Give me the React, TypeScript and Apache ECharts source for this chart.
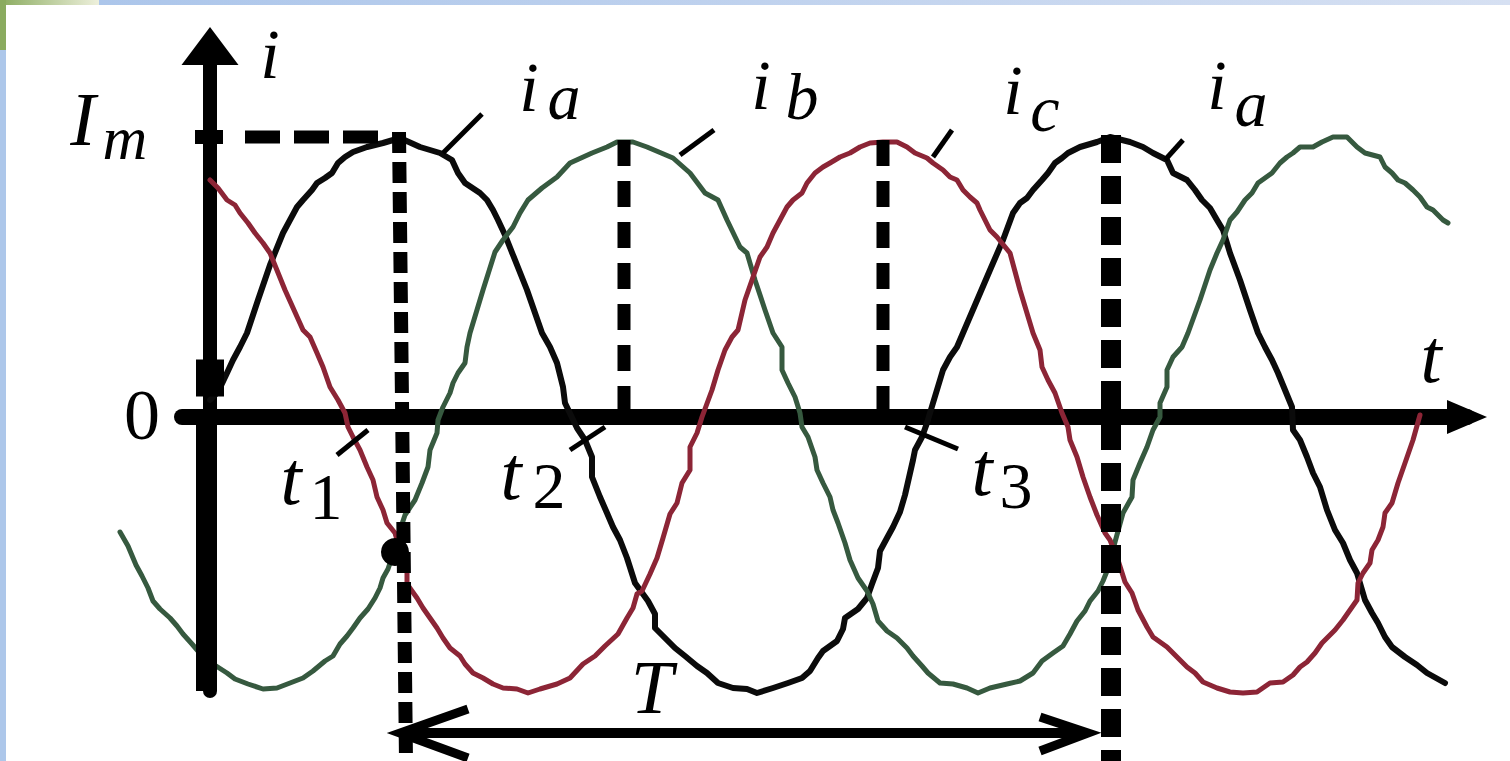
import React, { useEffect, useRef } from 'react';
import * as echarts from 'echarts';

// Three-phase currents, time in arbitrary units (origin on the i axis), current in units where Im = 280
const iaPoints: [number, number][] = [
  [0, 17], [8, 25], [17, 44], [23, 57], [30, 70], [37, 84], [48, 117], [60, 152], [73, 184], [80, 197],
  [87, 210], [93, 217], [102, 227], [107, 234], [115, 239], [122, 244], [128, 254], [135, 260], [143, 265],
  [157, 270], [173, 274], [190, 279], [210, 270], [230, 264], [242, 257], [248, 244], [255, 234], [270, 224],
  [277, 217], [283, 207], [288, 197], [295, 182], [303, 162], [317, 127], [332, 84], [340, 70], [347, 54],
  [353, 30], [355, 14], [367, -11], [375, -23], [382, -40], [382, -60], [390, -80], [397, -96], [403, -110],
  [410, -123], [417, -141], [425, -166], [438, -184], [445, -197], [445, -211], [453, -219], [465, -231],
  [475, -239], [487, -249], [497, -256], [508, -266], [523, -271], [537, -272], [547, -276], [563, -271],
  [578, -266], [592, -261], [600, -254], [608, -241], [613, -234], [627, -224], [633, -212], [635, -201],
  [648, -192], [657, -181], [662, -167], [668, -151], [670, -134], [677, -121], [683, -110], [690, -95],
  [695, -78], [703, -43], [705, -33], [712, -20], [717, -6], [723, 14], [733, 47], [740, 60], [747, 70],
  [753, 84], [765, 112], [780, 147], [793, 177], [803, 204], [810, 214], [817, 219], [823, 227], [832, 237],
  [838, 244], [845, 254], [852, 259], [858, 264], [870, 270], [887, 275], [900, 280], [920, 275], [933, 270],
  [943, 264], [957, 257], [963, 244], [977, 237], [985, 227], [992, 217], [1000, 209], [1007, 197],
  [1013, 187], [1020, 164], [1030, 137], [1040, 107], [1048, 84], [1055, 70], [1062, 57], [1068, 44],
  [1075, 27], [1082, 10], [1083, -13], [1090, -23], [1097, -40], [1103, -56], [1110, -70], [1117, -93],
  [1125, -113], [1133, -126], [1140, -143], [1147, -156], [1155, -183], [1162, -196], [1168, -206],
  [1175, -220], [1182, -230], [1195, -240], [1207, -248], [1217, -256], [1235, -266],
];

const ibPoints: [number, number][] = [
  [-90, -115], [-82, -129], [-74, -148], [-68, -159], [-62, -171], [-57, -184], [-50, -192], [-40, -201],
  [-33, -209], [-27, -217], [-18, -227], [-12, -234], [-3, -241], [3, -247], [17, -256], [25, -262],
  [38, -267], [53, -272], [67, -271], [80, -266], [93, -261], [103, -254], [115, -244], [123, -239],
  [130, -227], [137, -219], [143, -211], [150, -201], [158, -192], [165, -181], [170, -171], [173, -161],
  [178, -152], [185, -131], [190, -113], [195, -98], [205, -83], [212, -66], [218, -50], [220, -33],
  [227, -16], [228, -3], [233, 10], [240, 24], [243, 34], [248, 44], [255, 54], [257, 70], [260, 84],
  [273, 127], [285, 165], [293, 177], [303, 190], [310, 204], [318, 217], [332, 229], [347, 240], [360, 254],
  [382, 264], [397, 270], [407, 275], [423, 275], [437, 270], [463, 259], [480, 244], [495, 224], [508, 217],
  [517, 197], [530, 170], [537, 164], [545, 137], [555, 107], [563, 84], [572, 70], [572, 47], [578, 34],
  [585, 20], [590, 4], [592, -10], [598, -20], [605, -40], [607, -53], [613, -66], [620, -80], [623, -93],
  [628, -106], [635, -126], [640, -143], [648, -161], [657, -174], [663, -187], [668, -204], [677, -214],
  [687, -221], [697, -231], [703, -239], [712, -249], [718, -256], [730, -266], [743, -267], [757, -271],
  [768, -276], [780, -271], [797, -267], [810, -264], [823, -256], [832, -244], [843, -236], [853, -229],
  [860, -217], [867, -204], [875, -194], [880, -184], [888, -174], [893, -164], [897, -154], [905, -125],
  [913, -96], [922, -80], [923, -63], [930, -46], [937, -30], [943, -13], [950, 0], [950, 14], [957, 30],
  [957, 47], [963, 60], [972, 70], [978, 84], [990, 117], [1000, 147], [1007, 164], [1013, 177], [1020, 197],
  [1027, 205], [1035, 217], [1042, 224], [1048, 234], [1055, 239], [1062, 244], [1070, 254], [1077, 260],
  [1083, 264], [1090, 270], [1103, 270], [1112, 275], [1123, 280], [1137, 280], [1147, 270], [1155, 264],
  [1170, 260], [1175, 250], [1182, 244], [1188, 237], [1195, 234], [1203, 227], [1210, 220], [1217, 210],
  [1223, 207], [1233, 197], [1238, 194],
];

const icPoints: [number, number][] = [
  [0, 237], [8, 229], [17, 217], [25, 212], [30, 204], [38, 194], [45, 184], [53, 174], [60, 164], [75, 127],
  [93, 87], [100, 80], [107, 64], [113, 50], [120, 30], [128, 17], [135, 4], [138, -10], [143, -20],
  [150, -33], [157, -50], [163, -63], [167, -80], [173, -93], [177, -106], [185, -116], [190, -133],
  [197, -154], [197, -167], [207, -181], [213, -191], [220, -201], [227, -211], [233, -221], [240, -231],
  [250, -239], [255, -247], [263, -256], [273, -261], [283, -267], [293, -271], [307, -272], [318, -276],
  [330, -272], [347, -267], [360, -261], [373, -247], [385, -239], [395, -229], [408, -217], [417, -201],
  [423, -191], [427, -177], [432, -174], [440, -157], [447, -141], [453, -121], [460, -97], [467, -86],
  [472, -66], [480, -53], [480, -30], [487, -16], [492, 0], [502, 27], [508, 47], [515, 67], [522, 80],
  [528, 87], [535, 117], [542, 137], [550, 160], [557, 170], [563, 184], [570, 197], [577, 210], [583, 217],
  [592, 224], [597, 234], [605, 244], [613, 250], [620, 254], [630, 260], [640, 264], [650, 270], [660, 274],
  [673, 275], [687, 275], [697, 270], [705, 264], [717, 259], [723, 254], [733, 247], [740, 240], [747, 237],
  [753, 227], [760, 220], [767, 214], [770, 207], [775, 197], [780, 187], [787, 180], [800, 164], [810, 127],
  [823, 84], [830, 67], [832, 50], [838, 37], [845, 24], [852, 4], [858, -10], [860, -23], [867, -40],
  [873, -60], [880, -80], [887, -98], [895, -116], [900, -123], [908, -143], [915, -165], [922, -176],
  [928, -193], [937, -210], [943, -220], [957, -230], [967, -240], [977, -250], [985, -256], [993, -265],
  [1007, -271], [1020, -275], [1033, -276], [1047, -275], [1060, -266], [1073, -265], [1083, -258],
  [1090, -250], [1097, -245], [1105, -236], [1112, -226], [1118, -220], [1125, -213], [1133, -203],
  [1140, -193], [1147, -183], [1148, -166], [1153, -156], [1160, -146], [1162, -133], [1168, -123],
  [1173, -110], [1175, -96], [1182, -86], [1188, -66], [1195, -46], [1203, -23], [1210, 2],
];

// Guides (same units)
const imGuide: [number, number][] = [[35, 280], [182, 280]];
const t1Guide: [number, number][] = [[189, 285], [196, -344]];
const peakBGuide: [number, number][] = [[414, 277], [414, 0]];
const peakCGuide: [number, number][] = [[673, 277], [673, 0]];
const periodEndGuide: [number, number][] = [[901, 282], [901, -344]];
const lowerAxisPart: [number, number][] = [[-3.5, 0], [-3.5, -274]];
const periodShaft: [number, number][] = [[192, -316], [876, -316]];
const periodHeads: [number, number][][] = [
  [[258, -292], [190, -316], [258, -341]],
  [[830, -300], [878, -316], [830, -334]],
];
const leaderLines: [number, number][][] = [
  [[233, 264], [272, 303]],
  [[470, 262], [504, 287]],
  [[723, 260], [742, 287]],
  [[955, 257], [973, 277]],
  [[127, -38], [158, -13]],
  [[360, -33], [395, -10]],
  [[695, -10], [748, -32]],
];
const crossDots: [number, number][] = [[185, -135]];
const axisMarks: [number, number][] = [[0, 39]];
const imMark: [number, number][] = [[-1, 280]];

const axisNameY = 'i';
const axisNameX = 't';
const zeroLabel = '0';
const imLabel = ['I', 'm'];
const timeLabels = [['t', '1'], ['t', '2'], ['t', '3']];
const phaseLabels = [['i', 'a'], ['i', 'b'], ['i', 'c'], ['i', 'a']];
const periodLabel = 'T';

const FONT = '"Liberation Serif", "Times New Roman", serif';

function txt(text: string, cx: number, base: number, size: number, italic = true) {
  return {
    type: 'text',
    z: 100,
    silent: true,
    style: {
      text,
      x: cx,
      y: base - 0.32 * size,
      font: `${italic ? 'italic ' : ''}${size}px ${FONT}`,
      fill: '#000',
      align: 'center',
      textAlign: 'center',
      verticalAlign: 'middle',
      textVerticalAlign: 'middle',
    },
  };
}

const onData = { xAxisIndex: 1, yAxisIndex: 1 };

function seg(data: [number, number][], width: number, dash?: number[], color = '#000', z = 5) {
  return {
    type: 'line',
    ...onData,
    data,
    symbol: 'none',
    showSymbol: false,
    clip: false,
    silent: true,
    z,
    emphasis: { disabled: true },
    lineStyle: { color, width, type: dash ? dash : 'solid', cap: 'butt', join: 'miter', opacity: 1 },
  };
}

function curve(name: string, data: [number, number][], color: string, width: number) {
  return {
    type: 'line',
    ...onData,
    name,
    data,
    symbol: 'none',
    showSymbol: false,
    clip: false,
    silent: true,
    z: 3,
    emphasis: { disabled: true },
    lineStyle: { color, width, join: 'round', cap: 'round', opacity: 1 },
  };
}

function dots(data: [number, number][], symbol: string, size: number | number[]) {
  return {
    type: 'scatter',
    ...onData,
    data,
    symbol,
    symbolSize: size,
    silent: true,
    clip: false,
    z: 6,
    itemStyle: { color: '#000', opacity: 1 },
    emphasis: { disabled: true },
  };
}

export default function App() {
  const ref = useRef<HTMLDivElement>(null);
  useEffect(() => {
    document.body.style.margin = '0';
    if (!ref.current) return;
    const chart = echarts.init(ref.current, undefined, { renderer: 'svg' });
    const labelEls = [
      txt(axisNameY, 270, 77, 70),
      txt(imLabel[0], 83, 143, 76),
      txt(imLabel[1], 125, 158, 62),
      txt(zeroLabel, 142, 438, 72, false),
      txt(timeLabels[0][0], 291, 502, 76),
      txt(timeLabels[0][1], 326, 518, 66, false),
      txt(timeLabels[1][0], 511, 497, 76),
      txt(timeLabels[1][1], 549, 507, 66, false),
      txt(timeLabels[2][0], 982, 493, 76),
      txt(timeLabels[2][1], 1016, 507, 66, false),
      txt(axisNameX, 1431, 380, 76),
      txt(phaseLabels[0][0], 529, 110, 70),
      txt(phaseLabels[0][1], 564, 118, 66),
      txt(phaseLabels[1][0], 761, 108, 70),
      txt(phaseLabels[1][1], 802, 118, 66),
      txt(phaseLabels[2][0], 1013, 113, 70),
      txt(phaseLabels[2][1], 1045, 130, 66),
      txt(phaseLabels[3][0], 1217, 108, 70),
      txt(phaseLabels[3][1], 1251, 125, 66),
      txt(periodLabel, 652, 711, 76),
    ];
    const frameEls = [
      {
        type: 'rect', z: 0, silent: true, shape: { x: 0, y: 0, width: 1510, height: 5 },
        style: { fill: new echarts.graphic.LinearGradient(0, 0, 1, 0, [
          { offset: 0, color: '#a9c4ea' }, { offset: 1, color: '#d6e0f2' }]) },
      },
      { type: 'rect', z: 0, silent: true, shape: { x: 0, y: 0, width: 6, height: 761 }, style: { fill: '#adc7ea' } },
      {
        type: 'rect', z: 1, silent: true, shape: { x: 0, y: 0, width: 99, height: 5 },
        style: { fill: new echarts.graphic.LinearGradient(0, 0, 1, 0, [
          { offset: 0, color: '#8aab5f' }, { offset: 1, color: '#eef0dc' }]) },
      },
      { type: 'rect', z: 1, silent: true, shape: { x: 0, y: 0, width: 6, height: 50 }, style: { fill: '#8aab5f' } },
    ];
    const hiddenAxis = {
      show: false, axisLine: { show: false }, axisTick: { show: false }, axisLabel: { show: false },
      splitLine: { show: false },
    };
    const option: any = {
      animation: false,
      backgroundColor: '#ffffff',
      grid: [
        { left: 182, right: 43, top: 46, bottom: 70, containLabel: false, outerBoundsMode: 'none' },
        { left: 115, right: 43, top: 46, bottom: 70, containLabel: false, outerBoundsMode: 'none' },
      ],
      xAxis: [
        {
          gridIndex: 0, type: 'value', min: -28, max: 1257,
          axisLine: { show: true, onZero: true, symbol: ['none', 'triangle'], symbolSize: [34, 40],
            lineStyle: { color: '#000', width: 16 } },
          axisTick: { show: false }, axisLabel: { show: false }, splitLine: { show: false },
        },
        { gridIndex: 1, type: 'value', min: -95, max: 1257, ...hiddenAxis },
      ],
      yAxis: [
        {
          gridIndex: 0, type: 'value', min: -274, max: 371,
          axisLine: { show: true, onZero: true, symbol: ['none', 'triangle'], symbolSize: [57, 38],
            lineStyle: { color: '#000', width: 14 } },
          axisTick: { show: false }, axisLabel: { show: false }, splitLine: { show: false },
        },
        { gridIndex: 1, type: 'value', min: -274, max: 371, ...hiddenAxis },
      ],
      series: [
        curve('ia', iaPoints, '#0b0b0b', 6),
        curve('ib', ibPoints, '#36593f', 5),
        curve('ic', icPoints, '#8c2536', 5),
        seg(lowerAxisPart, 21),
        seg(imGuide, 13, [35, 14]),
        seg(t1Guide, 14, [21, 9]),
        seg(peakBGuide, 13, [26, 15]),
        seg(peakCGuide, 13, [26, 15]),
        seg(periodEndGuide, 20, [28, 13]),
        seg(periodShaft, 10),
        ...periodHeads.map((h) => seg(h, 9)),
        ...leaderLines.map((l) => seg(l, 5)),
        dots(crossDots, 'circle', 28),
        dots(axisMarks, 'rect', [28, 37]),
        dots(imMark, 'rect', [28, 14]),
      ],
      graphic: { elements: [...frameEls, ...labelEls] },
    };
    chart.setOption(option);
    return () => chart.dispose();
  }, []);
  return (
    <div
      ref={ref}
      style={{ position: 'absolute', left: 0, top: 0, width: 1510, height: 761, background: '#fff' }}
    />
  );
}
